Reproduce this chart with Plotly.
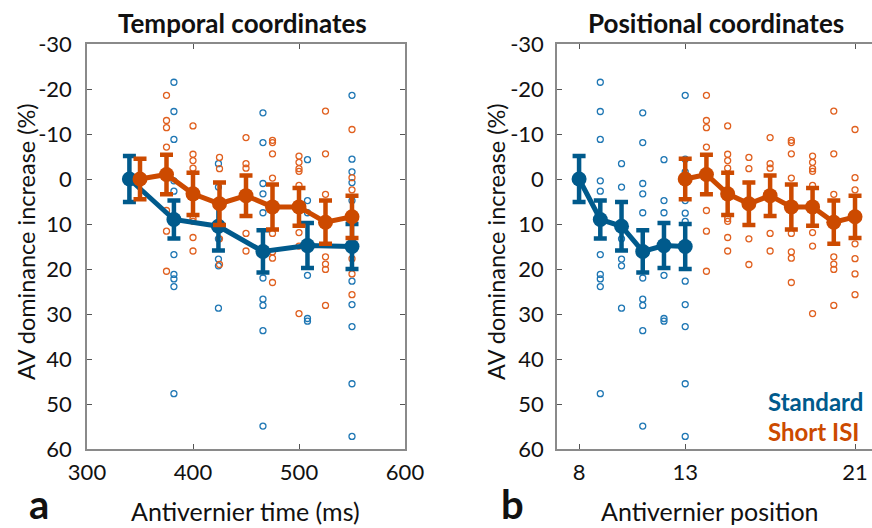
import plotly.graph_objects as go

# ---------------- data ----------------
std_pos = [8, 9, 10, 11, 12, 13]
std_time = [340, 382, 424, 466, 508, 550]
std_mean = [0.0, 9.0, 10.5, 16.1, 14.8, 15.0]
std_err = [5.1, 4.2, 5.4, 4.7, 5.0, 5.0]

isi_pos = [13, 14, 15, 16, 17, 18, 19, 20, 21]
isi_time = [350, 375, 400, 425, 450, 475, 500, 525, 550]
isi_mean = [0.0, -1.0, 3.3, 5.5, 3.7, 6.2, 6.2, 9.6, 8.4]
isi_err = [4.5, 4.4, 4.7, 4.7, 4.5, 5.0, 4.2, 4.8, 4.7]

# individual subjects (positions 9..13 for Standard, 14..21 for Short ISI)
std_sub_9 = [-21.5, -15.0, -8.8, 0.4, 2.7, 16.8, 21.2, 22.2, 23.9, 47.7]
std_sub_10 = [-3.4, 1.8, 13.3, 17.8, 19.3, 28.7]
std_sub_11 = [-14.7, -8.1, 1.0, 3.3, 7.5, 22.0, 26.7, 28.1, 33.7, 54.9]
std_sub_12 = [-4.3, 4.8, 7.5, 21.4, 31.0, 31.6]
std_sub_13 = [-18.6, -4.4, -1.6, 0.8, 4.8, 7.6, 9.4, 22.7, 27.9, 32.8, 45.5, 57.2]

isi_sub_14 = [-18.6, -13.0, -11.4, -7.1, 7.0, 11.6, 20.5]
isi_sub_15 = [-11.8, -5.5, -4.1, -2.4, 8.8, 9.4, 13.0, 16.0]
isi_sub_16 = [-4.8, -2.3, 13.3, 19.0]
isi_sub_17 = [-9.2, -3.4, -2.4, 12.1, 16.0]
isi_sub_18 = [-8.6, -8.1, -5.6, -0.2, 12.1, 16.2, 17.6, 23.0]
isi_sub_19 = [-5.1, -3.7, -2.3, -1.7, 1.4, 11.9, 14.9, 29.9]
isi_sub_20 = [-15.1, -5.6, 3.4, 17.3, 18.9, 20.1, 28.1]
isi_sub_21 = [-11.0, -0.3, 2.4, 14.4, 17.7, 21.1, 25.7]

std_subjects = [std_sub_9, std_sub_10, std_sub_11, std_sub_12, std_sub_13]
isi_subjects = [isi_sub_14, isi_sub_15, isi_sub_16, isi_sub_17,
                isi_sub_18, isi_sub_19, isi_sub_20, isi_sub_21]

y_ticks = [-30, -20, -10, 0, 10, 20, 30, 40, 50, 60]
y_tick_labels = ["-30", "-20", "-10", "0", "10", "20", "30", "40", "50", "60"]
x1_ticks = [300, 400, 500, 600]
x2_ticks = [8, 13, 21]

# ---------------- style ----------------
BLUE = "#005a8c"
ORANGE = "#cc4a00"
BLUE_L = "#1f77b4"
ORANGE_L = "#e0601f"
FONT = "Lato"

fig = go.Figure()


def add_panel(xs_std, xs_isi, xa, ya):
    sx, sy = [], []
    for x, vals in zip(xs_std[1:], std_subjects):
        sx += [x] * len(vals)
        sy += vals
    fig.add_trace(go.Scatter(x=sx, y=sy, mode="markers", xaxis=xa, yaxis=ya,
                             marker=dict(symbol="circle-open", size=6, color=BLUE_L,
                                         line=dict(width=1.3)),
                             showlegend=False, hoverinfo="skip"))
    ox, oy = [], []
    for x, vals in zip(xs_isi[1:], isi_subjects):
        ox += [x] * len(vals)
        oy += vals
    fig.add_trace(go.Scatter(x=ox, y=oy, mode="markers", xaxis=xa, yaxis=ya,
                             marker=dict(symbol="circle-open", size=6, color=ORANGE_L,
                                         line=dict(width=1.3)),
                             showlegend=False, hoverinfo="skip"))
    for xs, m, e, c in [(xs_std, std_mean, std_err, BLUE), (xs_isi, isi_mean, isi_err, ORANGE)]:
        fig.add_trace(go.Scatter(x=xs, y=m, mode="lines+markers", xaxis=xa, yaxis=ya,
                                 line=dict(color=c, width=5),
                                 marker=dict(size=15, color=c),
                                 error_y=dict(type="data", array=e, color=c,
                                              thickness=4.5, width=6.5),
                                 showlegend=False, hoverinfo="skip"))


add_panel(std_time, isi_time, "x", "y")
add_panel(std_pos, isi_pos, "x2", "y2")

W, H = 872, 528
ydom = [1 - 449 / H, 1 - 44 / H]
axis_common = dict(showline=True, linecolor="#8a8a8a", linewidth=1.5,
                   ticks="inside", ticklen=5, tickcolor="#555555", tickwidth=1,
                   showgrid=False, zeroline=False, automargin=False,
                   tickfont=dict(family=FONT, size=22, color="#111111"))

fig.update_layout(
    width=W, height=H,
    margin=dict(l=0, r=0, t=0, b=0),
    paper_bgcolor="white", plot_bgcolor="white",
    xaxis=dict(domain=[87 / W, 405 / W], range=[300, 600], tickvals=x1_ticks,
               mirror="ticks", anchor="y", ticklabelstandoff=3, **axis_common),
    yaxis=dict(domain=ydom, range=[60, -30], tickvals=y_ticks, ticktext=y_tick_labels,
               mirror="ticks", anchor="x", ticklabelstandoff=9, **axis_common),
    xaxis2=dict(domain=[557 / W, 1.0], range=[6.96, 21.8], tickvals=x2_ticks,
                mirror="ticks", anchor="y2", ticklabelstandoff=3, **axis_common),
    yaxis2=dict(domain=ydom, range=[60, -30], tickvals=y_ticks, ticktext=y_tick_labels,
                mirror=False, anchor="x2", ticklabelstandoff=7, **axis_common),
)

ann = []
def A(text, x, y, size, bold=False, color="#111111", angle=0, xanchor="center",
      yanchor="middle"):
    ann.append(dict(text=f"<b>{text}</b>" if bold else text, x=x / W, y=1 - y / H,
                    xref="paper", yref="paper", showarrow=False, textangle=angle,
                    xanchor=xanchor, yanchor=yanchor,
                    font=dict(family=FONT, size=size, color=color)))

A("Temporal coordinates", 242, 23, 26, bold=True)
A("Positional coordinates", 716, 23, 26, bold=True)
A("Antivernier time (ms)", 245, 511, 25)
A("Antivernier position", 710, 511, 25)
A("AV dominance increase (%)", 26, 242, 23.5, angle=-90)
A("AV dominance increase (%)", 496, 242, 23.5, angle=-90)
A("a", 39, 530, 40, bold=True, yanchor="bottom")
A("b", 512, 530, 40, bold=True, yanchor="bottom")
A("Standard", 766, 401, 24, bold=True, color=BLUE, xanchor="left")
A("Short ISI", 766, 431, 24, bold=True, color=ORANGE, xanchor="left")
fig.update_layout(annotations=ann)

fig.write_html("out.html", config={"displayModeBar": False},
               post_script="document.body.style.margin='0';document.body.style.overflow='hidden';")
